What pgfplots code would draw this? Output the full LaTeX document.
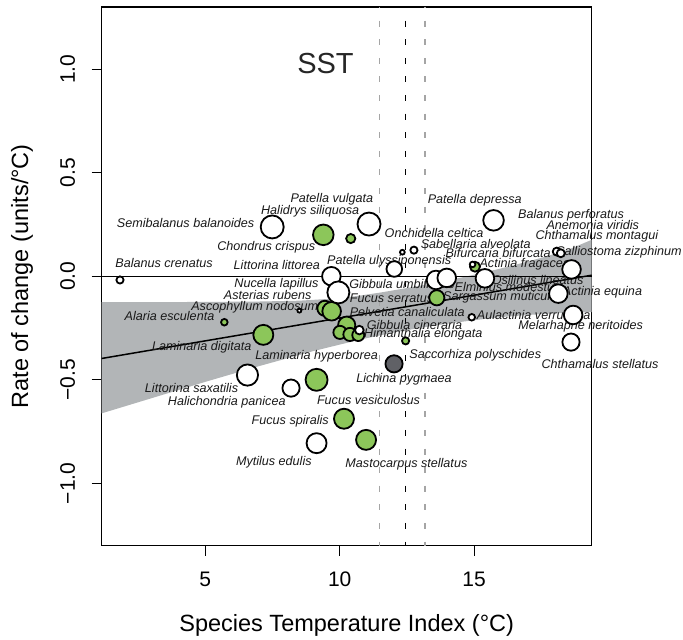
\documentclass[border=0pt]{standalone}
\usepackage{fontspec}
\setmainfont{Liberation Sans}
\usepackage{pgfplots}
\pgfplotsset{compat=1.18}

\definecolor{algae}{RGB}{140,198,90}
\definecolor{lichen}{RGB}{96,97,102}
\definecolor{band}{RGB}{178,181,183}
\definecolor{refgrey}{RGB}{165,165,165}
\newcommand{\lbl}{\fontsize{12.6}{15}\selectfont\itshape}

% species: x = temperature index, y = rate of change, r = circle radius (pt)
\pgfplotstableread{
x      y       r
1.83   -0.018  3.6
7.49    0.238  11.5
11.09   0.252  11.5
15.72   0.270  10.3
12.33   0.116  2.4
12.76   0.126  3.6
12.03   0.035  7.8
9.69    0.000  9.3
13.58  -0.018  9.3
13.98  -0.008  9.3
14.94   0.057  2.8
15.40  -0.010  9.3
18.07   0.119  4.0
18.22   0.111  4.0
18.62   0.033  9.3
18.13  -0.084  9.3
18.68  -0.187  9.3
18.60  -0.318  8.6
14.91  -0.198  3.3
8.50   -0.166  2.0
10.73  -0.260  4.3
6.57   -0.477  10.6
8.19   -0.540  8.6
9.14   -0.806  10.0
}\animals
\pgfplotstableread{
x      y       r
9.39    0.200  10.3
10.41   0.182  4.6
15.03   0.046  5.0
13.61  -0.104  7.6
9.45   -0.155  7.6
10.26  -0.236  8.6
10.01  -0.271  6.6
10.38  -0.281  6.6
10.69  -0.284  6.0
5.71   -0.222  3.3
7.16   -0.283  10.0
12.45  -0.312  3.6
9.14   -0.500  11.0
10.16  -0.688  10.0
10.98  -0.790  10.0
}\algae
\pgfplotstableread{
x      y       r
9.70   -0.169  9.3
}\algaeB
\pgfplotstableread{
x      y       r
9.95   -0.078  11.0
}\animalsB
\pgfplotstableread{
x      y       r
12.02  -0.423  8.6
}\lichens

\begin{document}
\begin{tikzpicture}
\begin{axis}[
  at={(0pt,0pt)}, anchor=south west,
  scale only axis, width=490pt, height=538.5pt,
  xmin=1.15, xmax=19.37, ymin=-1.3, ymax=1.3,
  clip=false,
  axis line style={line width=1.3pt},
  xtick={5,10,15}, xticklabels={5,10,15},
  ytick={-1,-0.5,0,0.5,1}, yticklabels={−1.0,−0.5,0.0,0.5,1.0},
  xtick pos=bottom, ytick pos=left,
  tick align=outside, major tick length=10pt,
  tick style={line width=1pt, black},
  ticklabel style={font=\fontsize{21}{25}\selectfont},
  xticklabel style={anchor=center, yshift=-24pt},
  yticklabel style={anchor=center, rotate=90},
  yticklabel shift=24pt,
  xlabel={Species Temperature Index (°C)},
  ylabel={Rate of change (units/°C)},
  label style={font=\fontsize{23.5}{28}\selectfont},
  xlabel style={at={(axis description cs:0.5,-0.148)}, anchor=center},
  ylabel style={at={(axis description cs:-0.1627,0.5)}, anchor=center, rotate=0},
  scatter/use mapped color={draw=black, fill=white},
]
% confidence band of the fit
\addplot[fill=band, draw=none] coordinates {
  (1.15,-0.125) (3,-0.125) (5,-0.124) (7,-0.122) (8.5,-0.118) (9.5,-0.110)
  (10.5,-0.098) (11.5,-0.079) (12.5,-0.057) (13.5,-0.033) (14.5,-0.007)
  (15.5,0.022) (16.5,0.054) (17.5,0.089) (18.5,0.128) (19.37,0.176)
  (19.37,-0.173) (18,-0.179) (17,-0.187) (16,-0.197) (15,-0.212) (14,-0.229)
  (13,-0.249) (12,-0.272) (11,-0.299) (10,-0.330) (9,-0.362) (7,-0.434)
  (5,-0.510) (3,-0.589) (1.15,-0.662)} -- cycle;
% zero line
\addplot[black, line width=1.3pt] coordinates {(1.15,0) (19.37,0)};
% current mean SST and its range
\addplot[refgrey, line width=1.5pt, dash pattern=on 6pt off 12.6pt, dash phase=4.9pt]
  coordinates {(11.48,1.3) (11.48,-1.3)};
\addplot[refgrey, line width=1.5pt, dash pattern=on 6pt off 12.6pt, dash phase=4.9pt]
  coordinates {(13.18,1.3) (13.18,-1.3)};
\addplot[black, line width=1.8pt, dash pattern=on 6pt off 12.6pt, dash phase=4.9pt]
  coordinates {(12.45,1.3) (12.45,-1.3)};
% fitted trend
\addplot[black, line width=1.5pt] coordinates {(1.15,-0.397) (19.37,0.005)};

% species
\addplot[scatter, only marks, mark=*, line width=1.8pt,
  scatter/use mapped color={draw=black, fill=algae},
  visualization depends on={\thisrow{r}\as\rad},
  scatter/@pre marker code/.append style={/tikz/mark size=\rad pt}]
  table[x=x, y=y] {\algae};
\addplot[scatter, only marks, mark=*, line width=1.8pt,
  scatter/use mapped color={draw=black, fill=white},
  visualization depends on={\thisrow{r}\as\rad},
  scatter/@pre marker code/.append style={/tikz/mark size=\rad pt}]
  table[x=x, y=y] {\animals};
\addplot[scatter, only marks, mark=*, line width=1.8pt,
  scatter/use mapped color={draw=black, fill=algae},
  visualization depends on={\thisrow{r}\as\rad},
  scatter/@pre marker code/.append style={/tikz/mark size=\rad pt}]
  table[x=x, y=y] {\algaeB};
\addplot[scatter, only marks, mark=*, line width=1.8pt,
  scatter/use mapped color={draw=black, fill=white},
  visualization depends on={\thisrow{r}\as\rad},
  scatter/@pre marker code/.append style={/tikz/mark size=\rad pt}]
  table[x=x, y=y] {\animalsB};
\addplot[scatter, only marks, mark=*, line width=1.8pt,
  scatter/use mapped color={draw=black, fill=lichen},
  visualization depends on={\thisrow{r}\as\rad},
  scatter/@pre marker code/.append style={/tikz/mark size=\rad pt}]
  table[x=x, y=y] {\lichens};

\node[font=\fontsize{29}{34}\selectfont, text=black!85] at (axis cs:9.47,1.026) {SST};

\begin{scope}[every node/.style={font=\lbl, inner sep=0pt, text=black!90}]
\node at (axis cs:9.71,0.373) {Patella vulgata};
\node at (axis cs:15.02,0.365) {Patella depressa};
\node at (axis cs:8.90,0.312) {Halidrys siliquosa};
\node at (axis cs:18.60,0.296) {Balanus perforatus};
\node at (axis cs:4.27,0.256) {Semibalanus balanoides};
\node at (axis cs:19.41,0.249) {Anemonia viridis};
\node at (axis cs:13.51,0.209) {Onchidella celtica};
\node at (axis cs:19.56,0.195) {Chthamalus montagui};
\node at (axis cs:15.06,0.158) {Sabellaria alveolata};
\node at (axis cs:7.27,0.142) {Chondrus crispus};
\node at (axis cs:15.89,0.114) {Bifurcaria bifurcata};
\node[anchor=west] at (axis cs:18.02,0.114) {Calliostoma zizphinum};
\node at (axis cs:3.47,0.063) {Balanus crenatus};
\node at (axis cs:7.66,0.055) {Littorina littorea};
\node at (axis cs:11.84,0.073) {Patella ulyssiponensis};
\node at (axis cs:16.88,0.059) {Actinia fragacea};
\node at (axis cs:17.36,-0.016) {Osilinus lineatus};
\node at (axis cs:7.65,-0.041) {Nucella lapillus};
\node at (axis cs:12.31,-0.037) {Gibbula umbilicalis};
\node at (axis cs:16.24,-0.053) {Elminius modestus};
\node at (axis cs:19.77,-0.077) {Actinia equina};
\node at (axis cs:7.32,-0.091) {Asterias rubens};
\node at (axis cs:11.93,-0.107) {Fucus serratus};
\node at (axis cs:15.98,-0.103) {Sargassum muticum};
\node at (axis cs:6.84,-0.152) {Ascophyllum nodosum};
\node at (axis cs:12.51,-0.174) {Pelvetia canaliculata};
\node at (axis cs:17.21,-0.187) {Aulactinia verrucosa};
\node at (axis cs:3.67,-0.193) {Alaria esculenta};
\node at (axis cs:12.78,-0.233) {Gibbula cineraria};
\node at (axis cs:18.96,-0.241) {Melarhaphe neritoides};
\node at (axis cs:13.11,-0.280) {Himanthalia elongata};
\node at (axis cs:4.87,-0.343) {Laminaria digitata};
\node at (axis cs:9.14,-0.385) {Laminaria hyperborea};
\node at (axis cs:15.04,-0.383) {Saccorhiza polyschides};
\node at (axis cs:19.68,-0.424) {Chthamalus stellatus};
\node at (axis cs:12.39,-0.497) {Lichina pygmaea};
\node at (axis cs:4.49,-0.538) {Littorina saxatilis};
\node at (axis cs:11.07,-0.598) {Fucus vesiculosus};
\node at (axis cs:5.80,-0.609) {Halichondria panicea};
\node at (axis cs:8.16,-0.698) {Fucus spiralis};
\node at (axis cs:7.55,-0.897) {Mytilus edulis};
\node at (axis cs:12.48,-0.907) {Mastocarpus stellatus};
\end{scope}
\end{axis}
\pgfresetboundingbox
\useasboundingbox (-101.7pt,-94.5pt) rectangle (581.3pt,545.5pt);
\end{tikzpicture}
\end{document}
